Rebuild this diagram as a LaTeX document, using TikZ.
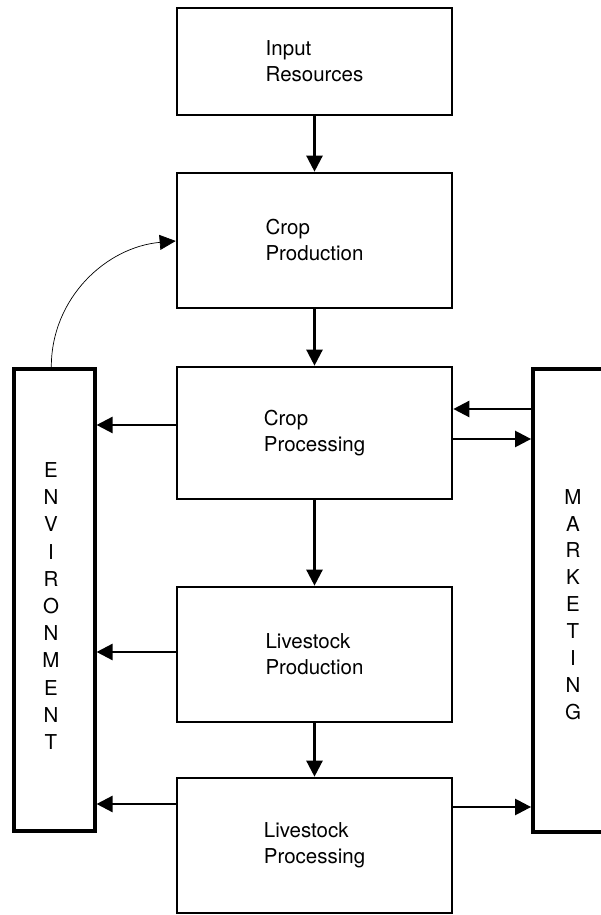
\documentclass[tikz,border=0pt]{standalone}
\usepackage{fontspec}
\setmainfont{TeX Gyre Heros}
\usetikzlibrary{arrows.meta}
\begin{document}
\begin{tikzpicture}[x=1pt,y=1pt,
  box/.style={draw, line width=2.6pt, minimum width=275pt, inner sep=0pt, align=left, font=\fontsize{20.5}{26}\selectfont},
  side/.style={draw, line width=3.8pt, inner sep=0pt},
  vtext/.style={align=center, font=\fontsize{20.5}{27.2}\selectfont, inner sep=0pt},
  arr/.style={line width=2.4pt, -{Triangle[length=16pt,width=16pt]}},
  fb/.style={line width=0.7pt, -{Triangle[length=16pt,width=15pt]}}]
\clip (0,0) rectangle (601,915);
\fill[white] (0,0) rectangle (601,915);
% central boxes
\node[box, minimum height=107pt] (input) at (314.5,853.5) {Input\\Resources};
\node[box, minimum height=135pt] (cprod) at (314.5,674.5) {Crop\\Production};
\node[box, minimum height=132pt] (cproc) at (314.5,482) {Crop\\Processing};
\node[box, minimum height=135pt] (lprod) at (314.5,260.5) {Livestock\\Production};
\node[box, minimum height=135pt] (lproc) at (314.5,69.5) {Livestock\\Processing};
% side boxes
\node[side, minimum width=80.7pt, minimum height=462pt] (env) at (54.3,315) {};
\node[side, minimum width=80pt, minimum height=463pt] (mkt) at (573,314.5) {};
\node[vtext] (envtxt) at (51,309) {E\\N\\V\\I\\R\\O\\N\\M\\E\\N\\T};
\node[vtext, font=\fontsize{20.5}{26.9}\selectfont] (mkttxt) at (573,310.5) {M\\A\\R\\K\\E\\T\\I\\N\\G};
% vertical flow
\draw[arr] (input.south) -- (cprod.north);
\draw[arr] (cprod.south) -- (cproc.north);
\draw[arr] (cproc.south) -- (lprod.north);
\draw[arr] (lprod.south) -- (lproc.north);
% to environment
\draw[arr] (cproc.west |- 0,490) -- (env.east |- 0,490);
\draw[arr] (lprod.west |- 0,263) -- (env.east |- 0,263);
\draw[arr] (lproc.west |- 0,111) -- (env.east |- 0,111);
% marketing
\draw[arr] (mkt.west |- 0,506) -- (cproc.east |- 0,506);
\draw[arr] (cproc.east |- 0,476) -- (mkt.west |- 0,476);
\draw[arr] (lproc.east |- 0,108) -- (mkt.west |- 0,108);
% feedback curve
\draw[fb] ([xshift=-3pt]env.north) to[out=90,in=185] (cprod.west |- 0,674);
\end{tikzpicture}
\end{document}
